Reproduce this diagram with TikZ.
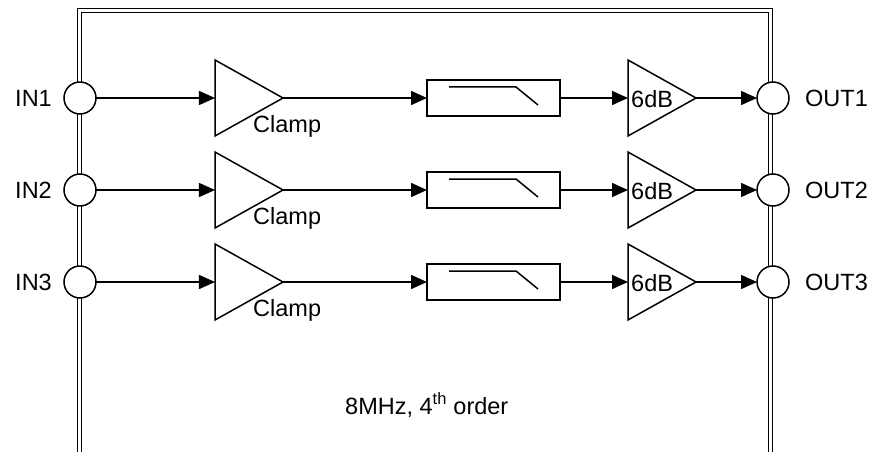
\documentclass[tikz,border=0pt]{standalone}
\usepackage{fontspec}
\setmainfont{Liberation Sans}
\usetikzlibrary{arrows.meta,positioning,calc}
\usetikzlibrary{shapes.geometric}

\tikzset{
  port/.style={draw,circle,fill=white,line width=1.5pt,minimum size=32pt,inner sep=0pt,outer sep=0pt},
  amp/.style={draw,isosceles triangle,isosceles triangle stretches,line width=1.5pt,
    minimum width=76pt,minimum height=68pt,inner sep=0pt,outer sep=0pt},
  lpf/.style={draw,rectangle,line width=1.5pt,minimum width=133pt,minimum height=36pt,inner sep=0pt,outer sep=0pt},
  txt/.style={inner sep=0pt},
  sig/.style={-{Triangle[length=16pt,width=14pt]},line width=1.5pt},
  frame/.style={draw,double=white,line width=1.3pt,double distance=2.4pt}
}

\begin{document}
\begin{tikzpicture}[x=1pt,y=-1pt,font=\fontsize{23.5}{28}\selectfont]
      \useasboundingbox (0,0) rectangle (871,452);

      \draw[frame] (79.5,460) -- (79.5,10.5) -- (770.5,10.5) -- (770.5,460);

      % channel 1
      \node[port] (in1) at (80,98) {};
      \node[amp,right = 119pt of in1] (cl1) {};
      \node[lpf,right = 144pt of cl1] (f1) {};
      \node[amp,right = 68pt of f1] (g1) {};
      \node[port,right = 61pt of g1] (out1) {};
      \node[txt,left = 12pt of in1] (lin1) {IN1};
      \node[txt,right = 16pt of out1] (lout1) {OUT1};
      \node[txt,anchor=base west] (lcl1) at ($(cl1.west)+(38,34)$) {Clamp};
      \node[txt,anchor=west] (lg1) at ($(g1.west)+(3,1)$) {6dB};
      \draw[line width=1.5pt] ($(f1.center)+(-44.5,-11)$) -- ($(f1.center)+(22.5,-11)$) -- ($(f1.center)+(44.5,7)$);
      \draw[sig] (in1)--(cl1);
      \draw[sig] (cl1)--(f1);
      \draw[sig] (f1)--(g1);
      \draw[sig] (g1)--(out1);

      % channel 2
      \node[port] (in2) at (80,190) {};
      \node[amp,right = 119pt of in2] (cl2) {};
      \node[lpf,right = 144pt of cl2] (f2) {};
      \node[amp,right = 68pt of f2] (g2) {};
      \node[port,right = 61pt of g2] (out2) {};
      \node[txt,left = 12pt of in2] (lin2) {IN2};
      \node[txt,right = 16pt of out2] (lout2) {OUT2};
      \node[txt,anchor=base west] (lcl2) at ($(cl2.west)+(38,34)$) {Clamp};
      \node[txt,anchor=west] (lg2) at ($(g2.west)+(3,1)$) {6dB};
      \draw[line width=1.5pt] ($(f2.center)+(-44.5,-11)$) -- ($(f2.center)+(22.5,-11)$) -- ($(f2.center)+(44.5,7)$);
      \draw[sig] (in2)--(cl2);
      \draw[sig] (cl2)--(f2);
      \draw[sig] (f2)--(g2);
      \draw[sig] (g2)--(out2);

      % channel 3
      \node[port] (in3) at (80,282) {};
      \node[amp,right = 119pt of in3] (cl3) {};
      \node[lpf,right = 144pt of cl3] (f3) {};
      \node[amp,right = 68pt of f3] (g3) {};
      \node[port,right = 61pt of g3] (out3) {};
      \node[txt,left = 12pt of in3] (lin3) {IN3};
      \node[txt,right = 16pt of out3] (lout3) {OUT3};
      \node[txt,anchor=base west] (lcl3) at ($(cl3.west)+(38,34)$) {Clamp};
      \node[txt,anchor=west] (lg3) at ($(g3.west)+(3,1)$) {6dB};
      \draw[line width=1.5pt] ($(f3.center)+(-44.5,-11)$) -- ($(f3.center)+(22.5,-11)$) -- ($(f3.center)+(44.5,7)$);
      \draw[sig] (in3)--(cl3);
      \draw[sig] (cl3)--(f3);
      \draw[sig] (f3)--(g3);
      \draw[sig] (g3)--(out3);

      \node[txt,anchor=base west] (spec) at (345,414) {8MHz, 4\textsuperscript{th} order};

    \end{tikzpicture}
\end{document}
